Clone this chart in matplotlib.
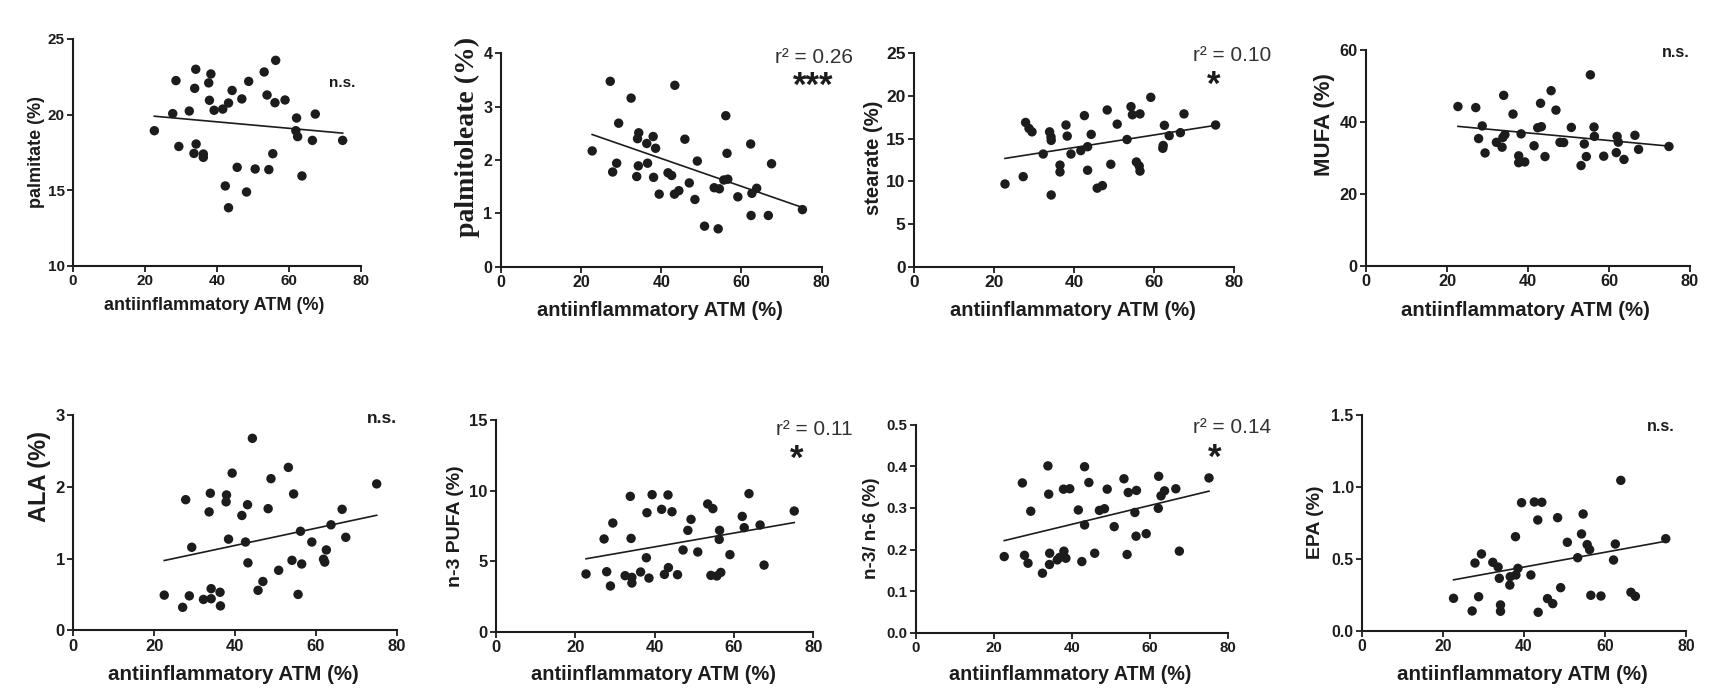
import numpy as np
import matplotlib
matplotlib.use("Agg")
import matplotlib.pyplot as plt

# ---------------- data ----------------
palmitate_x = [22.6, 27.7, 28.6, 29.4, 32.3, 34.1, 33.8, 34.2, 33.6, 36.2, 36.2, 37.7, 38.3, 37.9, 39.2, 41.6, 42.3, 43.2, 43.2, 44.2,
               45.6, 46.9, 48.2, 48.8, 50.6, 53.1, 53.9, 54.4, 55.5, 56.3, 56.1, 58.9, 62.1, 61.9, 62.4, 63.6, 66.5, 67.3, 74.9]
palmitate_y = [18.94, 20.07, 22.25, 17.9, 20.24, 23.0, 21.74, 18.06, 17.44, 17.4, 17.18, 22.1, 22.69, 20.95, 20.29, 20.37, 15.29,
               20.77, 13.85, 21.6, 16.52, 21.04, 14.89, 22.2, 16.41, 22.82, 21.3, 16.37, 17.42, 23.59, 20.79, 20.97, 19.78, 18.94,
               18.55, 15.95, 18.3, 20.04, 18.3]

palmitoleate_x = [22.8, 27.3, 27.9, 28.9, 29.4, 32.5, 34.4, 34.1, 33.9, 34.3, 36.4, 36.6, 38.0, 38.1, 38.6, 39.5, 41.7, 42.6, 43.4,
                  43.3, 44.4, 45.9, 47.0, 48.4, 49.0, 50.8, 53.2, 54.2, 54.5, 55.6, 56.1, 56.4, 56.6, 59.1, 62.3, 62.4, 62.6,
                  63.8, 66.7, 67.5, 75.2]
palmitoleate_y = [2.17, 3.475, 1.775, 1.94, 2.69, 3.16, 2.51, 2.4, 1.69, 1.89, 2.31, 1.94, 2.44, 1.675, 2.22, 1.36, 1.76, 1.71, 3.4,
                  1.36, 1.425, 2.39, 1.57, 1.26, 1.98, 0.76, 1.48, 0.71, 1.46, 1.625, 2.83, 2.125, 1.64, 1.31, 2.3, 0.96, 1.375,
                  1.47, 0.96, 1.93, 1.07]

stearate_x = [22.75, 27.3, 27.9, 28.75, 29.5, 32.3, 33.9, 34.25, 34.3, 34.3, 36.5, 36.5, 38.0, 38.3, 39.25, 41.7, 42.6, 43.4, 43.4,
              44.3, 45.8, 47.1, 48.3, 49.2, 50.8, 53.25, 54.25, 54.6, 55.6, 56.3, 56.5, 56.5, 59.2, 62.2, 62.3, 62.6, 63.8, 66.6,
              67.5, 75.4]
stearate_y = [9.69, 10.55, 16.9, 16.2, 15.8, 13.2, 15.8, 15.2, 14.8, 8.4, 11.9, 11.1, 16.6, 15.3, 13.2, 13.6, 17.7, 14.06, 11.3,
              15.5, 9.2, 9.5, 18.36, 12.0, 16.7, 14.9, 18.75, 17.8, 12.27, 11.8, 11.2, 17.9, 19.84, 13.87, 14.2, 16.56, 15.35,
              15.7, 17.9, 16.6]

mufa_x = [22.7, 27.1, 27.8, 28.7, 29.4, 32.2, 33.6, 34.0, 33.8, 34.3, 36.3, 37.7, 37.7, 38.3, 39.2, 41.5, 42.4, 43.1, 43.3, 44.2,
          45.7, 46.9, 47.9, 48.8, 50.7, 53.1, 53.9, 54.4, 55.4, 56.3, 56.4, 58.7, 62.0, 61.8, 62.3, 63.7, 66.4, 67.3, 74.8]
mufa_y = [44.3, 44.0, 35.4, 38.9, 31.4, 34.35, 33.0, 47.4, 35.7, 36.5, 42.2, 30.6, 28.7, 36.7, 28.9, 33.4, 38.4, 45.2, 38.7, 30.4,
          48.7, 43.3, 34.35, 34.3, 38.5, 27.9, 33.9, 30.4, 53.1, 38.6, 36.0, 30.5, 36.0, 31.5, 34.4, 29.6, 36.3, 32.4, 33.2]

ala_x = [22.5, 27.05, 27.8, 28.7, 29.3, 32.2, 33.6, 33.9, 34.1, 34.1, 36.3, 36.4, 37.9, 37.8, 38.4, 39.3, 41.7, 42.6, 43.1, 43.2,
         44.3, 45.7, 46.9, 48.2, 48.9, 50.8, 53.2, 54.1, 54.5, 55.6, 56.2, 56.5, 59.0, 61.9, 62.2, 62.6, 63.75, 66.5, 67.4, 75.05]
ala_y = [0.49, 0.32, 1.82, 0.48, 1.157, 0.43, 1.65, 1.91, 0.44, 0.58, 0.53, 0.34, 1.886, 1.79, 1.27, 2.19, 1.6, 1.23, 1.75, 0.94,
         2.675, 0.557, 0.68, 1.695, 2.113, 0.836, 2.27, 0.975, 1.9, 0.5, 1.38, 0.924, 1.23, 0.99, 0.95, 1.12, 1.47, 1.686, 1.296, 2.04]

n3pufa_x = [22.75, 27.3, 27.96, 28.9, 29.5, 32.6, 33.9, 34.1, 34.3, 34.3, 36.5, 37.95, 38.1, 38.6, 39.4, 41.8, 42.5, 43.4, 43.5,
            44.4, 45.8, 47.2, 48.4, 49.2, 50.9, 53.4, 54.2, 54.7, 55.7, 56.4, 56.3, 56.7, 59.0, 62.1, 62.6, 63.8, 66.6, 67.6, 75.2]
n3pufa_y = [4.09, 6.57, 4.25, 3.24, 7.7, 3.97, 9.59, 6.61, 3.85, 3.45, 4.23, 5.24, 8.43, 3.8, 9.71, 8.67, 4.06, 9.69, 4.54, 8.5,
            4.04, 5.79, 7.18, 7.96, 5.65, 9.05, 3.99, 8.72, 3.95, 7.18, 6.54, 4.2, 5.46, 8.17, 7.37, 9.78, 7.56, 4.72, 8.55]

ratio_x = [22.7, 27.35, 27.9, 28.8, 29.5, 32.5, 33.9, 34.1, 34.35, 34.3, 36.3, 36.9, 37.9, 38.0, 38.5, 39.5, 41.7, 42.6, 43.3, 43.3,
           44.4, 45.9, 47.1, 48.4, 49.1, 50.9, 53.4, 54.2, 54.5, 56.2, 56.6, 56.5, 59.1, 62.3, 62.2, 62.9, 63.8, 66.7, 67.6, 75.2]
ratio_y = [0.183, 0.36, 0.186, 0.167, 0.292, 0.143, 0.401, 0.333, 0.191, 0.164, 0.175, 0.181, 0.345, 0.196, 0.179, 0.346, 0.295,
           0.171, 0.399, 0.259, 0.361, 0.191, 0.294, 0.298, 0.345, 0.255, 0.37, 0.188, 0.337, 0.289, 0.342, 0.232, 0.238, 0.376,
           0.299, 0.329, 0.341, 0.346, 0.196, 0.372]

epa_x = [22.6, 27.2, 27.9, 28.8, 29.5, 32.3, 33.6, 33.9, 34.2, 34.2, 36.5, 36.6, 37.9, 38.0, 38.5, 39.4, 41.7, 42.55, 43.4, 43.5,
         44.4, 45.8, 47.1, 48.3, 49.05, 50.7, 53.25, 54.2, 54.6, 55.6, 56.2, 56.5, 59.0, 62.1, 62.55, 63.9, 66.4, 67.5, 75.0]
epa_y = [0.227, 0.139, 0.472, 0.238, 0.535, 0.477, 0.444, 0.366, 0.181, 0.137, 0.319, 0.377, 0.655, 0.389, 0.435, 0.891, 0.389,
         0.896, 0.771, 0.13, 0.894, 0.225, 0.19, 0.787, 0.301, 0.616, 0.509, 0.674, 0.8125, 0.6, 0.565, 0.248, 0.243, 0.493,
         0.604, 1.046, 0.269, 0.241, 0.641]

ylabels = ["palmitate (%)", "palmitoleate (%)", "stearate (%)", "MUFA (%)",
           "ALA (%)", "n-3 PUFA (%)", "n-3/ n-6 (%)", "EPA (%)"]
xlabel = "antiinflammatory ATM (%)"
xticks = [0, 20, 40, 60, 80]
yticks = [[10, 15, 20, 25], [0, 1, 2, 3, 4], [0, 5, 10, 15, 20, 25], [0, 20, 40, 60],
          [0, 1, 2, 3], [0, 5, 10, 15], [0.0, 0.1, 0.2, 0.3, 0.4, 0.5], [0.0, 0.5, 1.0, 1.5]]
yticklabels = [["10", "15", "20", "25"], ["0", "1", "2", "3", "4"], ["0", "5", "10", "15", "20", "25"], ["0", "20", "40", "60"],
               ["0", "1", "2", "3"], ["0", "5", "10", "15"], ["0.0", "0.1", "0.2", "0.3", "0.4", "0.5"],
               ["0.0", "0.5", "1.0", "1.5"]]
r2_texts = [None, "r\u00b2 = 0.26", "r\u00b2 = 0.10", None, None, "r\u00b2 = 0.11", "r\u00b2 = 0.14", None]
sig_texts = ["n.s.", "***", "*", "n.s.", "n.s.", "*", "*", "n.s."]

xs = [palmitate_x, palmitoleate_x, stearate_x, mufa_x, ala_x, n3pufa_x, ratio_x, epa_x]
ys = [palmitate_y, palmitoleate_y, stearate_y, mufa_y, ala_y, n3pufa_y, ratio_y, epa_y]

# ---------------- layout (pixel boxes of each axes: left, right, top, bottom) ----------------
W, H = 1711, 692
boxes = [(73, 361, 39, 266), (500.7, 821.7, 53.3, 266.7), (914, 1234, 53.3, 266.7), (1366, 1690, 50, 266),
         (73.3, 396.7, 415, 630.3), (495.7, 813.3, 420, 631.7), (915.7, 1227.7, 424.7, 632.7), (1362, 1686, 415, 631)]
ylabel_pos = [(-0.126, 0.502), (-0.104, 0.606), (-0.127, 0.508), (-0.129, 0.653),
              (-0.105, 0.713), (-0.128, 0.499), (-0.141, 0.502), (-0.144, 0.505)]
ylabel_size = [13, 20, 14.5, 16, 17, 14, 13.6, 14]
xlabel_pos = [(0.49, -0.172), (0.496, -0.203), (0.496, -0.203), (0.492, -0.204),
              (0.495, -0.204), (0.496, -0.201), (0.495, -0.2), (0.496, -0.2)]
xlabel_size = [13, 14.5, 14.5, 14.7, 14.8, 14.4, 14.2, 14.8]
tick_size = [11, 11.5, 12.5, 11.8, 12, 12, 10.8, 11.4]
r2_pos = [None, (0.976, 0.981), (0.993, 0.992), None, None, (1.002, 0.956), (1.015, 0.986), None]
sig_pos = [(0.933, 0.805), (0.974, 0.845), (0.937, 0.85), (0.955, 0.9875),
           (0.954, 0.983), (0.948, 0.815), (0.959, 0.84), (0.923, 0.949)]
sig_size = [11, 25, 25, 11.5, 12.5, 25, 25, 11.5]

ink = "#1c1c1c"
sans = "Liberation Sans"

fig = plt.figure(figsize=(W / 100, H / 100), dpi=100)
fig.patch.set_facecolor("white")

for i in range(8):
    l, r, t, b = boxes[i]
    ax = fig.add_axes([l / W, (H - b) / H, (r - l) / W, (b - t) / H])
    x = np.array(xs[i])
    y = np.array(ys[i])
    ax.scatter(x, y, s=46, color=ink, edgecolors="none", zorder=3, clip_on=False)
    k, c = np.polyfit(x, y, 1)
    xx = np.array([x.min(), x.max()])
    ax.plot(xx, k * xx + c, color=ink, lw=1.2, zorder=2)

    ax.set_xlim(0, 80)
    ax.set_ylim(yticks[i][0], yticks[i][-1])
    ax.set_xticks(xticks)
    ax.set_xticklabels([str(v) for v in xticks])
    ax.set_yticks(yticks[i])
    ax.set_yticklabels(yticklabels[i])
    for s in ("top", "right"):
        ax.spines[s].set_visible(False)
    for s in ("left", "bottom"):
        ax.spines[s].set_linewidth(1.5)
        ax.spines[s].set_color(ink)
    ax.tick_params(direction="out", length=4.5, width=1.3, color=ink, pad=1.5)
    for lab in ax.get_xticklabels() + ax.get_yticklabels():
        lab.set_fontfamily(sans)
        lab.set_fontweight("bold")
        lab.set_fontsize(tick_size[i])
        lab.set_color(ink)

    yfam = "Liberation Serif" if i == 1 else sans
    ax.set_ylabel(ylabels[i], fontfamily=yfam, fontweight="bold", fontsize=ylabel_size[i], color=ink)
    ax.yaxis.set_label_coords(*ylabel_pos[i])
    ax.yaxis.label.set_va("center")
    ax.set_xlabel(xlabel, fontfamily=sans, fontweight="bold", fontsize=xlabel_size[i], color=ink)
    ax.xaxis.set_label_coords(*xlabel_pos[i])
    ax.xaxis.label.set_va("center")

    if r2_texts[i] is not None:
        ax.text(r2_pos[i][0], r2_pos[i][1], r2_texts[i], transform=ax.transAxes, ha="center",
                va="center", fontfamily=sans, fontsize=15, color="#333333")
    ax.text(sig_pos[i][0], sig_pos[i][1], sig_texts[i], transform=ax.transAxes, ha="center", va="center",
            fontfamily=sans, fontweight="bold", fontsize=sig_size[i], color=ink)
    ax.set_facecolor("white")

fig.savefig("out.png", dpi=100, facecolor="white")
